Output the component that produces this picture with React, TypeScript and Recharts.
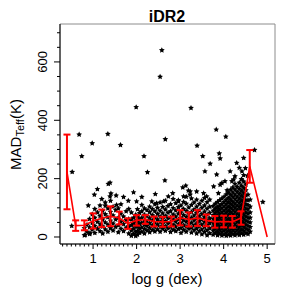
import React from "react";
import { ComposedChart, Scatter, XAxis, YAxis, ErrorBar, ReferenceArea } from "recharts";

const FONT = '"Liberation Sans", Arial, Helvetica, sans-serif';

const X_DOMAIN: [number, number] = [0.24, 5.18];
const Y_DOMAIN: [number, number] = [-24, 730];

// axis ticks
const xMajor = [1, 2, 3, 4, 5];
const xMinor = Array.from({ length: 48 }, (_, i) => Math.round((0.3 + i * 0.1) * 10) / 10);
const yMajor = [0, 200, 400, 600];
const yMinor = [0, 50, 100, 150, 200, 250, 300, 350, 400, 450, 500, 550, 600, 650, 700];

// binned median curve (red)
const binG = [0.4, 0.6, 0.8, 1.0, 1.2, 1.4, 1.6, 1.8, 2.0, 2.2, 2.4, 2.6, 2.8, 3.0, 3.2, 3.4, 3.6, 3.8, 4.0, 4.2, 4.4, 4.6, 5.0];
const binMad = [223, 39, 40, 55, 64, 71, 65, 46, 57, 60, 53, 52, 53, 66, 60, 65, 57, 52, 53, 52, 65, 242, 0];
const binErr = [128, 18, 17, 26, 30, 34, 22, 18, 18, 15, 17, 17, 17, 26, 24, 27, 20, 20, 20, 20, 23, 56];

// isolated stars
const sparsePts: [number, number][] = [
  [2.58, 640], [2.54, 549], [1.99, 445], [3.25, 442], [3.83, 368], [4.05, 344], [0.68, 351], [1.34, 353],
  [2.66, 335], [0.98, 321], [1.63, 315], [0.74, 277], [0.52, 223], [3.39, 313], [3.52, 277], [2.17, 277],
  [2.25, 222], [3.9, 286], [3.92, 269], [3.69, 251], [3.57, 225], [4.71, 298], [4.9, 120], [2.65, 194],
  [1.35, 182], [1.39, 186], [1.1, 164], [1.03, 145], [1.39, 139], [1.93, 153], [2.12, 137], [1.53, 142],
  [1.7, 137], [1.2, 130], [1.81, 124], [2.0, 122], [1.54, 110], [0.89, 108], [1.28, 107], [1.41, 149],
  [0.82, 7], [0.93, 13], [0.51, 38],
  [3.06, 170], [3.13, 176], [3.23, 156], [3.38, 156], [3.54, 150], [3.61, 139], [3.23, 145], [3.08, 139],
  [2.83, 150], [2.73, 139], [2.96, 122], [2.62, 122], [2.46, 116], [2.35, 122], [3.19, 159], [2.43, 147],
  [3.77, 173], [3.92, 179], [4.03, 191], [4.23, 197], [4.15, 225], [4.42, 225], [4.3, 254], [4.46, 271],
  [4.36, 237], [4.26, 208], [3.96, 185], [4.19, 191], [3.84, 214], [4.08, 160], [3.88, 150], [4.55, 210],
  [4.5, 236],
];

// low-gravity clump, logg 0.8 - 2.0
const colsA: [number, number[]][] = [
  [0.8, [6, 30]], [0.86, [18, 42]], [0.92, [10, 33, 62]], [0.98, [25, 48, 78]],
  [1.04, [14, 38, 66, 96]], [1.1, [28, 52, 84]], [1.16, [20, 44, 72, 108]], [1.22, [12, 36, 60, 90]],
  [1.28, [26, 50, 78, 118]], [1.34, [18, 42, 68, 98]], [1.4, [30, 56, 86, 124]], [1.46, [22, 46, 74, 104]],
  [1.52, [34, 60, 92]], [1.58, [16, 40, 66, 98]], [1.64, [28, 52, 80, 112]], [1.7, [20, 44, 70]],
  [1.76, [32, 58, 88]], [1.82, [12, 36, 62, 96]], [1.88, [4, 22, 40, 60, 84]], [1.93, [10, 28, 46, 66]],
  [1.98, [3, 18, 36, 54, 76]],
];

// giants, logg 2.0 - 3.7
const colsB: [number, number[]][] = [
  [2.02, [8, 21, 36, 52, 70, 95]], [2.07, [14, 29, 44, 61, 82]], [2.12, [18, 33, 49, 66, 88, 110]],
  [2.18, [12, 27, 42, 58, 76, 98]], [2.24, [22, 38, 55, 72, 92]], [2.3, [16, 31, 47, 64, 85, 104]],
  [2.36, [24, 40, 57, 75, 96]], [2.42, [19, 34, 50, 67, 88, 112]], [2.48, [26, 43, 60, 79, 100]],
  [2.54, [18, 35, 52, 70, 90, 118]], [2.6, [28, 45, 62, 81, 103]], [2.66, [21, 37, 54, 72, 94, 124]],
  [2.72, [30, 47, 64, 83, 106]], [2.78, [17, 34, 51, 68, 88, 112]], [2.84, [25, 42, 59, 77, 99, 130]],
  [2.9, [20, 36, 53, 70, 91, 116]], [2.96, [27, 44, 61, 80, 102, 126]], [3.02, [14, 31, 48, 65, 84, 108]],
  [3.08, [24, 40, 57, 75, 96, 120]], [3.14, [18, 35, 52, 69, 89, 114, 138]], [3.2, [28, 45, 62, 80, 101]],
  [3.26, [15, 32, 49, 66, 86, 110, 132]], [3.32, [23, 40, 57, 74, 94, 118]], [3.38, [12, 29, 46, 63, 82, 104, 128]],
  [3.44, [20, 37, 54, 71, 91, 113]], [3.5, [9, 26, 43, 60, 79, 100, 124]], [3.56, [17, 34, 51, 68, 87, 108, 134]],
  [3.62, [6, 23, 40, 57, 76, 97, 119]], [3.68, [13, 30, 47, 64, 83, 104, 128]],
];

// dwarfs, logg 3.75 - 4.65 (dense)
const colsC: [number, number[]][] = [
  [3.76, [8, 22, 35, 48, 62, 75, 90, 106]],
  [3.81, [14, 28, 41, 55, 69, 83, 97, 114]],
  [3.86, [6, 19, 33, 46, 60, 74, 88, 102, 120]],
  [3.91, [11, 25, 38, 52, 66, 80, 94, 108, 126]],
  [3.96, [5, 17, 30, 44, 58, 71, 85, 99, 113, 132]],
  [4.01, [9, 22, 36, 50, 63, 77, 91, 105, 120, 138]],
  [4.06, [4, 15, 28, 42, 56, 70, 84, 98, 112, 127, 146]],
  [4.11, [8, 21, 35, 49, 62, 76, 90, 104, 119, 134, 152]],
  [4.16, [5, 16, 29, 43, 57, 71, 85, 99, 113, 128, 144, 162]],
  [4.21, [10, 23, 37, 51, 65, 79, 93, 107, 121, 137, 153, 170]],
  [4.26, [6, 18, 31, 45, 59, 73, 87, 101, 115, 130, 146, 163, 182]],
  [4.31, [11, 24, 38, 52, 66, 80, 94, 108, 123, 139, 155, 172]],
  [4.36, [7, 19, 33, 47, 61, 75, 89, 103, 117, 132, 148, 165, 186]],
  [4.41, [12, 26, 40, 54, 68, 82, 96, 110, 125, 141, 158, 176, 198]],
  [4.46, [8, 21, 35, 49, 63, 77, 91, 105, 119, 134, 150, 168, 190, 212]],
  [4.51, [14, 28, 42, 56, 70, 84, 98, 112, 127, 143, 160, 180]],
  [4.56, [10, 24, 38, 52, 66, 80, 95, 110, 126, 145]],
  [4.61, [18, 34, 50, 66, 84, 104, 128]],
];

const fromCols = (cols: [number, number[]][]) => cols.flatMap(([g, ms]) => ms.map((m) => ({ g, m })));

const starData = [
  ...sparsePts.map(([g, m]) => ({ g, m })),
  ...fromCols(colsA),
  ...fromCols(colsB),
  ...fromCols(colsC),
];

const curveData = binG.map((g, i) => ({ g, m: binMad[i] }));
const barData = binErr.map((e, i) => ({ g: binG[i], m: binMad[i], e }));

const STAR_R = 3;
const starOffsets = Array.from({ length: 10 }, (_, i) => {
  const a = (Math.PI / 5) * i - Math.PI / 2;
  const r = i % 2 === 0 ? STAR_R : STAR_R * 0.5;
  return [r * Math.cos(a), r * Math.sin(a)];
});

function StarShape(props: any) {
  const { cx, cy } = props;
  if (cx == null || cy == null) return <g />;
  const pts = starOffsets.map(([dx, dy]) => `${cx + dx},${cy + dy}`).join(" ");
  return <polygon points={pts} fill="#000" />;
}

function NoShape() {
  return <g />;
}

function XTick(props: any) {
  const { x, y, payload } = props;
  const v = payload.value;
  const major = xMajor.some((m) => Math.abs(m - v) < 1e-6);
  return (
    <g>
      <line x1={x} x2={x} y1={y} y2={y + (major ? 5 : 2.5)} stroke="#000" strokeWidth={1} />
      {major && (
        <text x={x} y={y + 18.5} textAnchor="middle" fontSize={13} fontFamily={FONT} fill="#000">
          {Math.round(v)}
        </text>
      )}
    </g>
  );
}

function YTick(props: any) {
  const { x, y, payload } = props;
  const v = payload.value;
  const major = yMajor.includes(v);
  const tx = x - 13.3;
  return (
    <g>
      <line x1={x - (major ? 6 : 3)} x2={x} y1={y} y2={y} stroke="#000" strokeWidth={1} />
      {major && (
        <text
          x={tx}
          y={y}
          transform={`rotate(-90 ${tx} ${y})`}
          textAnchor="middle"
          fontSize={13}
          fontFamily={FONT}
          fill="#000"
        >
          {v}
        </text>
      )}
    </g>
  );
}

export default function App() {
  return (
    <div style={{ position: "absolute", left: 0, top: 0, width: 300, height: 300, background: "#fff" }}>
      <ComposedChart width={300} height={300} margin={{ top: 24, right: 25, bottom: 0, left: 0 }}>
        <XAxis
          type="number"
          dataKey="g"
          domain={X_DOMAIN}
          allowDataOverflow
          ticks={xMinor}
          interval={0}
          tickSize={0}
          tickMargin={0}
          tick={<XTick />}
          height={56}
          axisLine={{ stroke: "#000" }}
        />
        <YAxis
          type="number"
          dataKey="m"
          domain={Y_DOMAIN}
          allowDataOverflow
          ticks={yMinor}
          interval={0}
          tickSize={0}
          tickMargin={0}
          tick={<YTick />}
          width={60}
          axisLine={{ stroke: "#000" }}
        />
        <ReferenceArea
          x1={X_DOMAIN[0]}
          x2={X_DOMAIN[1]}
          y1={Y_DOMAIN[0]}
          y2={Y_DOMAIN[1]}
          fill="none"
          stroke="#8c8c8c"
          strokeWidth={1}
        />
        <Scatter data={starData} shape={<StarShape />} isAnimationActive={false} zIndex={100} />
        <Scatter
          data={curveData}
          shape={<NoShape />}
          line={{ stroke: "#ff0000", strokeWidth: 1.6 }}
          lineType="joint"
          isAnimationActive={false}
          zIndex={2000}
        />
        <Scatter data={barData} shape={<NoShape />} isAnimationActive={false} zIndex={2000}>
          <ErrorBar dataKey="e" direction="y" width={3.5} stroke="#ff0000" strokeWidth={2} zIndex={2000} />
        </Scatter>
      </ComposedChart>
      <svg width={300} height={300} style={{ position: "absolute", left: 0, top: 0, pointerEvents: "none" }}>
        <text x={167} y={21.5} textAnchor="middle" fontSize={16} fontWeight="bold" fontFamily={FONT} fill="#000">
          iDR2
        </text>
        <text x={167} y={283.5} textAnchor="middle" fontSize={15} fontFamily={FONT} fill="#000">
          log g (dex)
        </text>
        <text
          x={20.7}
          y={134.5}
          transform="rotate(-90 20.7 134.5)"
          textAnchor="middle"
          fontSize={15}
          fontFamily={FONT}
          fill="#000"
        >
          <tspan>MAD</tspan>
          <tspan fontSize={11} dy={3}>Teff</tspan>
          <tspan dy={-3}>(K)</tspan>
        </text>
      </svg>
    </div>
  );
}
